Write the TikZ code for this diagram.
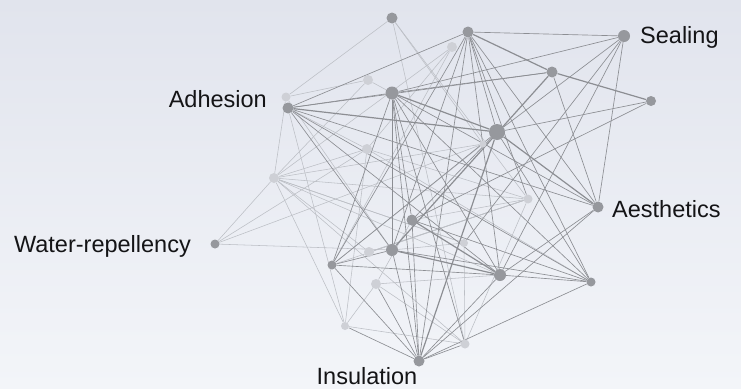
\documentclass[tikz,border=0pt]{standalone}
\usepackage{fontspec}
\setmainfont{Liberation Sans}
\pgfdeclarelayer{back}
\pgfdeclarelayer{edges}
\pgfsetlayers{back,edges,main}
\definecolor{bgtop}{RGB}{225,228,237}
\definecolor{bgbot}{RGB}{243,245,249}
\definecolor{dkn}{RGB}{150,152,157}
\definecolor{ltn}{RGB}{206,208,214}
\definecolor{dke}{RGB}{140,142,147}
\definecolor{lte}{RGB}{188,191,197}
\definecolor{txt}{RGB}{20,20,22}
\tikzset{
  dn/.style={circle,fill=dkn,inner sep=0pt,minimum size=#1},
  ln/.style={circle,fill=ltn,inner sep=0pt,minimum size=#1},
  de/.style={draw=dke,line width=0.65pt},
  te/.style={draw=dke,line width=1.2pt},
  le/.style={draw=lte,line width=0.55pt},
  lab/.style={text=txt,font=\fontsize{23.5}{27}\selectfont,inner sep=0pt}
}
\begin{document}
\begin{tikzpicture}[x=1pt,y=-1pt]
\useasboundingbox (0,0) rectangle (741,388);
\begin{pgfonlayer}{back}
\shade[top color=bgtop,bottom color=bgbot] (0,0) rectangle (741,388);
\end{pgfonlayer}
% nodes
\node[dn=11pt] (T) at (392,18) {};
\node[dn=11pt] (A2) at (468,32) {};
\node[ln=10pt] (L1) at (452,47) {};
\node[dn=12pt] (Se) at (624,36) {};
\node[dn=11pt] (S2) at (552,72) {};
\node[dn=10pt] (S3) at (651,101) {};
\node[ln=10pt] (L3) at (368,80) {};
\node[dn=13pt] (N1) at (392,93) {};
\node[ln=9pt] (L2) at (286,97) {};
\node[dn=11pt] (Ad) at (288,108) {};
\node[dn=16pt] (Bg) at (497,132) {};
\node[ln=7pt] (L12) at (483,144) {};
\node[ln=10pt] (L4) at (367,149) {};
\node[ln=10pt] (L5) at (274,178) {};
\node[ln=9pt] (L6) at (528,199) {};
\node[dn=11pt] (Ae) at (598,207) {};
\node[dn=11pt] (N2) at (412,220) {};
\node[ln=8pt] (L7) at (464,243) {};
\node[dn=9pt] (Wa) at (215,244) {};
\node[ln=10pt] (L8) at (369,252) {};
\node[dn=12pt] (N3) at (392,250) {};
\node[dn=9pt] (N4) at (332,265) {};
\node[dn=12pt] (N5) at (500,275) {};
\node[dn=9pt] (N6) at (591,282) {};
\node[ln=10pt] (L9) at (376,284) {};
\node[ln=8pt] (L10) at (345,326) {};
\node[ln=9pt] (L11) at (465,344) {};
\node[dn=11pt] (In) at (419,361) {};
% labels
\node[lab,anchor=base east] (tAd) at (267,107) {Adhesion};
\node[lab,anchor=base west] (tSe) at (640,43) {Sealing};
\node[lab,anchor=base west] (tAe) at (612,217) {Aesthetics};
\node[lab,anchor=base east] (tWa) at (191,252) {Water-repellency};
\node[lab,anchor=base] (tIn) at (367,384) {Insulation};
% edges
\begin{pgfonlayer}{edges}
\foreach \a/\b in {T/L2,T/L6,T/L11,T/L12,L3/N1,L3/L5,L3/L2,L1/L4,L1/N4,L1/L5,
  L4/L5,L4/L6,L4/Ad,L4/N6,L4/L10,L5/L6,L5/L8,L5/L11,L5/L10,L5/L7,L5/N5,L5/L2,
  L6/N4,L6/L8,L6/L11,L6/N2,L7/L11,L7/N3,L7/L5,L9/L10,L9/L11,L9/N2,L10/L11,L10/Ad,
  Wa/L5,Wa/L4,Wa/L12,Wa/N3,L12/L5,L12/N4,L2/N3,L8/L6,L9/N5}
  \draw[le] (\a) -- (\b);
\foreach \a/\b in {A2/Se,A2/Ad,A2/N4,A2/N3,A2/N5,A2/Ae,A2/N6,A2/In,A2/Bg,A2/L6,
  Se/N1,Se/L7,Se/N5,Se/Ae,Se/Bg,S2/N1,S2/Ad,S2/Ae,S3/Bg,S3/N2,
  N1/Ad,N1/N4,N1/N3,N1/N2,N1/N5,N1/Ae,N1/N6,N1/In,N1/L11,
  Ad/Ae,Ad/N5,Ad/N3,Ad/N6,N2/In,N2/N6,N2/Bg,N3/N4,N3/In,N3/N6,
  N4/N5,N4/In,N4/Bg,N5/Ae,N5/N6,N5/In,N6/In,Ae/In,L11/In,L10/In,L9/In,N6/Bg}
  \draw[de] (\a) -- (\b);
\foreach \a/\b in {A2/S2,S2/S3,Ad/Bg,N1/Bg,Bg/In,Bg/Ae,N2/N5,N3/N5,S2/N3}
  \draw[te] (\a) -- (\b);
\end{pgfonlayer}
\end{tikzpicture}
\end{document}
